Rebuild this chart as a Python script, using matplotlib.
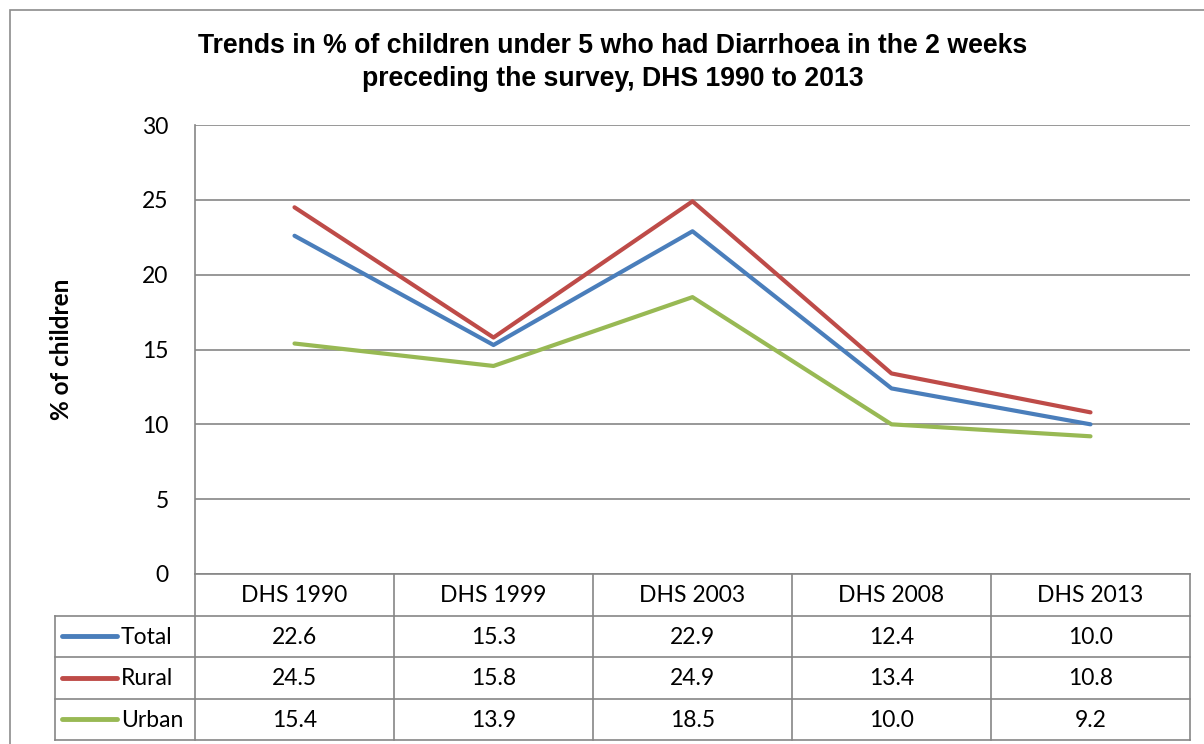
import matplotlib.pyplot as plt
from matplotlib.patches import Rectangle

# survey rounds and % of children with diarrhoea
surveys = ["DHS 1990", "DHS 1999", "DHS 2003", "DHS 2008", "DHS 2013"]
total = [22.6, 15.3, 22.9, 12.4, 10.0]
rural = [24.5, 15.8, 24.9, 13.4, 10.8]
urban = [15.4, 13.9, 18.5, 10.0, 9.2]

series_names = ["Total", "Rural", "Urban"]
series_vals = [total, rural, urban]
colors = ["#4A7EBB", "#BE4B48", "#98B954"]

W, H = 1204, 744
fig = plt.figure(figsize=(W / 100, H / 100), dpi=100)
fig.patch.set_facecolor("white")

grid_c = "#868686"
tfont = "Lato"

# outer chart frame
fig.patches.append(Rectangle((10 / W, -0.1), 1.2, (H - 10) / H + 0.1,
                             transform=fig.transFigure, fill=False,
                             edgecolor="#8c8c8c", linewidth=1.2))

def px(x0, y0, x1, y1):
    return [x0 / W, 1 - y1 / H, (x1 - x0) / W, (y1 - y0) / H]

ax = fig.add_axes(px(195, 125, 1190, 574))
x = list(range(len(surveys)))
for name, vals, c in zip(series_names, series_vals, colors):
    ax.plot(x, vals, color=c, linewidth=3, solid_capstyle="round",
            solid_joinstyle="round", label=name, zorder=3)

ax.set_xlim(-0.5, len(surveys) - 0.5)
ax.set_ylim(0, 30)
ax.set_yticks(range(0, 31, 5))
ax.set_xticks([])
ax.yaxis.grid(True, color=grid_c, linewidth=1.2)
ax.set_axisbelow(True)
for s in ["top", "right", "bottom"]:
    ax.spines[s].set_visible(False)
ax.spines["left"].set_color(grid_c)
ax.spines["left"].set_linewidth(1.2)
ax.tick_params(axis="y", length=0, pad=19, labelsize=16.5)
for lab in ax.get_yticklabels():
    lab.set_fontfamily(tfont)

ax.set_ylabel("% of children", fontfamily=tfont, fontweight="bold",
              fontsize=17.5)
ax.yaxis.set_label_coords((73 - 195) / 995, 0.5)

fig.text(613 / W, 1 - 62.5 / H,
         "Trends in % of children under 5 who had Diarrhoea in the 2 weeks\n"
         "preceding the survey, DHS 1990 to 2013",
         ha="center", va="center", fontfamily="Liberation Sans",
         fontweight="bold", fontsize=19.2, linespacing=1.33)

# data table under the plot
tab = fig.add_axes(px(55, 574, 1190, 740))
leg_w = 140 / 199
tab.set_xlim(-0.5 - leg_w, len(surveys) - 0.5)
tab.set_ylim(4, 0)
tab.axis("off")
lw = 1.2
left = -0.5 - leg_w
right = len(surveys) - 0.5
# horizontal rules
tab.plot([-0.5, right], [0, 0], color=grid_c, lw=lw, clip_on=False)
for r in range(1, 5):
    tab.plot([left, right], [r, r], color=grid_c, lw=lw, clip_on=False)
# vertical rules
tab.plot([left, left], [1, 4], color=grid_c, lw=lw, clip_on=False)
for i in range(len(surveys) + 1):
    tab.plot([i - 0.5, i - 0.5], [0, 4], color=grid_c, lw=lw, clip_on=False)

for i, s in enumerate(surveys):
    tab.text(i, 0.52, s, ha="center", va="center", fontfamily=tfont,
             fontsize=16.5)
for r, (name, vals, c) in enumerate(zip(series_names, series_vals, colors), start=1):
    tab.plot([left + 7 / 199, left + 62 / 199], [r + 0.5, r + 0.5], color=c,
             lw=3.5, solid_capstyle="round", clip_on=False)
    tab.text(left + 66 / 199, r + 0.52, name, ha="left", va="center",
             fontfamily=tfont, fontsize=16.5)
    for i, v in enumerate(vals):
        tab.text(i, r + 0.52, f"{v:.1f}", ha="center", va="center",
                 fontfamily=tfont, fontsize=16.5)

fig.savefig("out.png", dpi=100)
